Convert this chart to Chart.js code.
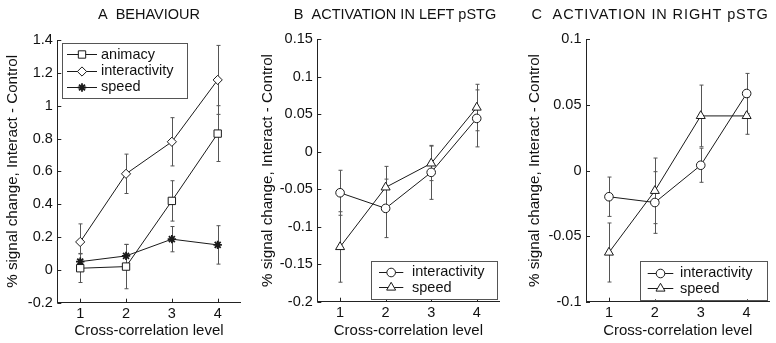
<!DOCTYPE html>
<html><head><meta charset="utf-8">
<script src="https://cdn.jsdelivr.net/npm/chart.js@4.4.0/dist/chart.umd.min.js"></script>
<style>
html,body{margin:0;padding:0;background:#fff;width:776px;height:343px;overflow:hidden}
canvas{position:absolute;top:0}
</style></head><body>
<canvas id="cA" width="256" height="343" style="left:0px"></canvas>
<canvas id="cB" width="258" height="343" style="left:256px"></canvas>
<canvas id="cC" width="262" height="343" style="left:514px"></canvas>
<script>
// ---------- data ----------
const levels = [1, 2, 3, 4];
const levelLabels = ['1', '2', '3', '4'];

// Panel A: behaviour
const aTicks = [-0.2, 0, 0.2, 0.4, 0.6, 0.8, 1, 1.2, 1.4];
const aTickLabels = ['-0.2', '0', '0.2', '0.4', '0.6', '0.8', '1', '1.2', '1.4'];
const aAnimacy = [0.01, 0.02, 0.42, 0.83];
const aAnimacyErr = [0.087, 0.135, 0.123, 0.17];
const aInteractivity = [0.17, 0.585, 0.78, 1.157];
const aInteractivityErr = [0.11, 0.12, 0.147, 0.21];
const aSpeed = [0.05, 0.085, 0.187, 0.152];
const aSpeedErr = [0.05, 0.07, 0.077, 0.117];

// Panel B: left pSTG
const bTicks = [-0.2, -0.15, -0.1, -0.05, 0, 0.05, 0.1, 0.15];
const bTickLabels = ['-0.2', '-0.15', '-0.1', '-0.05', '0', '0.05', '0.1', '0.15'];
const bInteractivity = [-0.0547, -0.0755, -0.0275, 0.0445];
const bInteractivityErr = [0.03, 0.039, 0.036, 0.038];
const bSpeed = [-0.127, -0.0475, -0.0155, 0.059];
const bSpeedErr = [0.047, 0.028, 0.023, 0.031];

// Panel C: right pSTG
const cTicks = [-0.1, -0.05, 0, 0.05, 0.1];
const cTickLabels = ['-0.1', '-0.05', '0', '0.05', '0.1'];
const cInteractivity = [-0.020, -0.0244, 0.004, 0.0587];
const cInteractivityErr = [0.015, 0.0235, 0.013, 0.0153];
const cSpeed = [-0.0625, -0.0155, 0.0416, 0.0416];
const cSpeedErr = [0.0225, 0.025, 0.0235, 0.014];

const titles = ['A  BEHAVIOUR', 'B  ACTIVATION IN LEFT pSTG', 'C  ACTIVATION IN RIGHT pSTG'];
const xTitle = 'Cross-correlation level';
const yTitle = '% signal change, Interact - Control';

// ---------- styling ----------
const FONT = '"Liberation Sans", Arial, Helvetica, sans-serif';
const TXT = '#111111';
const LINE = '#1a1a1a';
const ERR = '#555555';

const markers = {
  animacy: {pointStyle: 'rect', radius: 5.2, bw: 1},
  interactivityA: {pointStyle: 'rectRot', radius: 4.6, bw: 1},
  speedA: {pointStyle: 'star', radius: 4.2, bw: 1.8},
  circle: {pointStyle: 'circle', radius: 4.3, bw: 1},
  triangle: {pointStyle: 'triangle', radius: 5.2, bw: 1}
};

function ds(label, values, errs, m) {
  return {
    label: label,
    data: levels.map((x, i) => ({x: x, y: values[i]})),
    errors: errs,
    borderColor: LINE,
    borderWidth: 1,
    backgroundColor: '#fff',
    pointStyle: m.pointStyle,
    pointRadius: m.radius,
    pointBorderWidth: m.bw,
    pointBackgroundColor: '#fff',
    pointBorderColor: LINE,
    tension: 0,
    fill: false
  };
}

function drawMarker(ctx, m, x, y) {
  ctx.save();
  ctx.fillStyle = '#fff';
  ctx.strokeStyle = LINE;
  ctx.lineWidth = m.bw;
  Chart.helpers.drawPoint(ctx, {pointStyle: m.pointStyle, radius: m.radius, rotation: 0, borderWidth: m.bw}, x, y);
  ctx.restore();
}

const errorBarPlugin = {
  id: 'errbars',
  beforeDatasetsDraw(chart) {
    const ctx = chart.ctx;
    const ys = chart.scales.y;
    ctx.save();
    ctx.strokeStyle = ERR;
    ctx.lineWidth = 1;
    chart.data.datasets.forEach((d, di) => {
      const meta = chart.getDatasetMeta(di);
      meta.data.forEach((pt, i) => {
        const v = d.data[i].y, e = d.errors[i];
        const top = ys.getPixelForValue(v + e);
        const bot = ys.getPixelForValue(v - e);
        const x = Math.round(pt.x) + 0.5;
        ctx.beginPath();
        ctx.moveTo(x, top); ctx.lineTo(x, bot);
        ctx.moveTo(x - 2, top); ctx.lineTo(x + 2, top);
        ctx.moveTo(x - 2, bot); ctx.lineTo(x + 2, bot);
        ctx.stroke();
      });
    });
    ctx.restore();
  }
};

const decorPlugin = {
  id: 'decor',
  afterDraw(chart, args, opts) {
    const ctx = chart.ctx;
    const ca = chart.chartArea;
    const xs = chart.scales.x, ys = chart.scales.y;
    ctx.save();
    // inward ticks
    ctx.strokeStyle = '#222';
    ctx.lineWidth = 1;
    ctx.beginPath();
    xs.ticks.forEach(t => {
      const px = Math.round(xs.getPixelForValue(t.value)) + 0.5;
      ctx.moveTo(px, ca.bottom); ctx.lineTo(px, ca.bottom - 4);
    });
    ys.ticks.forEach(t => {
      const py = Math.round(ys.getPixelForValue(t.value)) + 0.5;
      ctx.moveTo(ca.left, py); ctx.lineTo(ca.left + 4, py);
    });
    ctx.stroke();

    ctx.fillStyle = TXT;
    // panel title
    ctx.save();
    ctx.font = '14.5px ' + FONT;
    ctx.textAlign = 'center';
    ctx.textBaseline = 'middle';
    if (opts.titleSpacing) ctx.letterSpacing = opts.titleSpacing;
    ctx.fillText(opts.title, opts.titleX, 15);
    ctx.restore();
    // x title
    ctx.font = '15px ' + FONT;
    ctx.textAlign = 'center';
    ctx.textBaseline = 'middle';
    ctx.fillText(xTitle, (ca.left + ca.right) / 2, 331);
    // y title
    ctx.save();
    ctx.font = '15.2px ' + FONT;
    ctx.translate(opts.yTitleX, (ca.top + ca.bottom) / 2);
    ctx.rotate(-Math.PI / 2);
    ctx.fillText(yTitle, 0, 0);
    ctx.restore();

    // legend
    const L = opts.legend;
    ctx.fillStyle = '#fff';
    ctx.fillRect(L.left, L.top, L.right - L.left, L.bottom - L.top);
    ctx.strokeStyle = '#555';
    ctx.lineWidth = 1;
    ctx.strokeRect(Math.round(L.left) + 0.5, Math.round(L.top) + 0.5, Math.round(L.right - L.left), Math.round(L.bottom - L.top));
    ctx.font = '14.5px ' + FONT;
    ctx.textAlign = 'left';
    ctx.textBaseline = 'middle';
    L.items.forEach((it, i) => {
      const y = L.rows[i];
      ctx.strokeStyle = LINE;
      ctx.lineWidth = 1;
      ctx.beginPath();
      ctx.moveTo(L.lineX0, Math.round(y) + 0.5);
      ctx.lineTo(L.lineX1, Math.round(y) + 0.5);
      ctx.stroke();
      drawMarker(ctx, it.m, (L.lineX0 + L.lineX1) / 2, Math.round(y) + 0.5);
      ctx.fillStyle = TXT;
      ctx.fillText(it.label, L.textX, y + 0.5);
    });
    ctx.restore();
  }
};

function makeChart(id, datasets, yMin, yMax, yTicks, yLabels, geom, decor) {
  return new Chart(document.getElementById(id), {
    type: 'line',
    data: {datasets: datasets},
    plugins: [errorBarPlugin, decorPlugin],
    options: {
      responsive: false,
      animation: false,
      devicePixelRatio: 1,
      layout: {padding: {left: 0, right: geom.padRight, top: geom.top, bottom: 0}},
      plugins: {legend: {display: false}, tooltip: {enabled: false}, title: {display: false}, decor: decor},
      scales: {
        x: {
          type: 'linear', min: 0.5, max: 4.5,
          afterBuildTicks: s => { s.ticks = levels.map(v => ({value: v})); },
          afterFit: s => { s.height = 343 - geom.bottom; },
          grid: {display: false, drawTicks: false},
          border: {display: true, color: '#222', width: 1},
          ticks: {font: {family: FONT, size: 14.5}, color: TXT, padding: 3, maxRotation: 0, autoSkip: false,
                  callback: (v, i) => levelLabels[i]}
        },
        y: {
          type: 'linear', min: yMin, max: yMax,
          afterBuildTicks: s => { s.ticks = yTicks.map(v => ({value: v})); },
          afterFit: s => { s.width = geom.left; },
          grid: {display: false, drawTicks: false},
          border: {display: true, color: '#222', width: 1},
          ticks: {font: {family: FONT, size: 14.5}, color: TXT, padding: 4.5, autoSkip: false,
                  callback: (v, i) => yLabels[i]}
        }
      }
    }
  });
}

// Panel A
makeChart('cA', [
  ds('animacy', aAnimacy, aAnimacyErr, markers.animacy),
  ds('interactivity', aInteractivity, aInteractivityErr, markers.interactivityA),
  ds('speed', aSpeed, aSpeedErr, markers.speedA)
], -0.2, 1.4, aTicks, aTickLabels,
{left: 57.3, padRight: 256 - 240.6, top: 40, bottom: 302.7},
{title: titles[0], titleX: 149, yTitleX: 13,
 legend: {left: 61.7, top: 43.3, right: 186.7, bottom: 98.3, rows: [54, 70.5, 86.7],
          lineX0: 67, lineX1: 97, textX: 101,
          items: [{label: 'animacy', m: markers.animacy}, {label: 'interactivity', m: markers.interactivityA}, {label: 'speed', m: markers.speedA}]}});

// Panel B
makeChart('cB', [
  ds('interactivity', bInteractivity, bInteractivityErr, markers.circle),
  ds('speed', bSpeed, bSpeedErr, markers.triangle)
], -0.2, 0.15, bTicks, bTickLabels,
{left: 61.3, padRight: 258 - 243.5, top: 39.3, bottom: 301.7},
{title: titles[1], titleX: 139, yTitleX: 12.3,
 legend: {left: 114.7, top: 261, right: 240.7, bottom: 299.3, rows: [271.8, 287.3],
          lineX0: 123, lineX1: 147.3, textX: 156,
          items: [{label: 'interactivity', m: markers.circle}, {label: 'speed', m: markers.triangle}]}});

// Panel C
makeChart('cC', [
  ds('interactivity', cInteractivity, cInteractivityErr, markers.circle),
  ds('speed', cSpeed, cSpeedErr, markers.triangle)
], -0.1, 0.1, cTicks, cTickLabels,
{left: 72, padRight: 262 - 255.6, top: 39.3, bottom: 301.7},
{title: titles[2], titleX: 136, titleSpacing: '0.9px', yTitleX: 21,
 legend: {left: 126, top: 260.7, right: 252.7, bottom: 299.3, rows: [272.5, 288.3],
          lineX0: 133.7, lineX1: 159.3, textX: 166,
          items: [{label: 'interactivity', m: markers.circle}, {label: 'speed', m: markers.triangle}]}});
</script>
</body></html>
